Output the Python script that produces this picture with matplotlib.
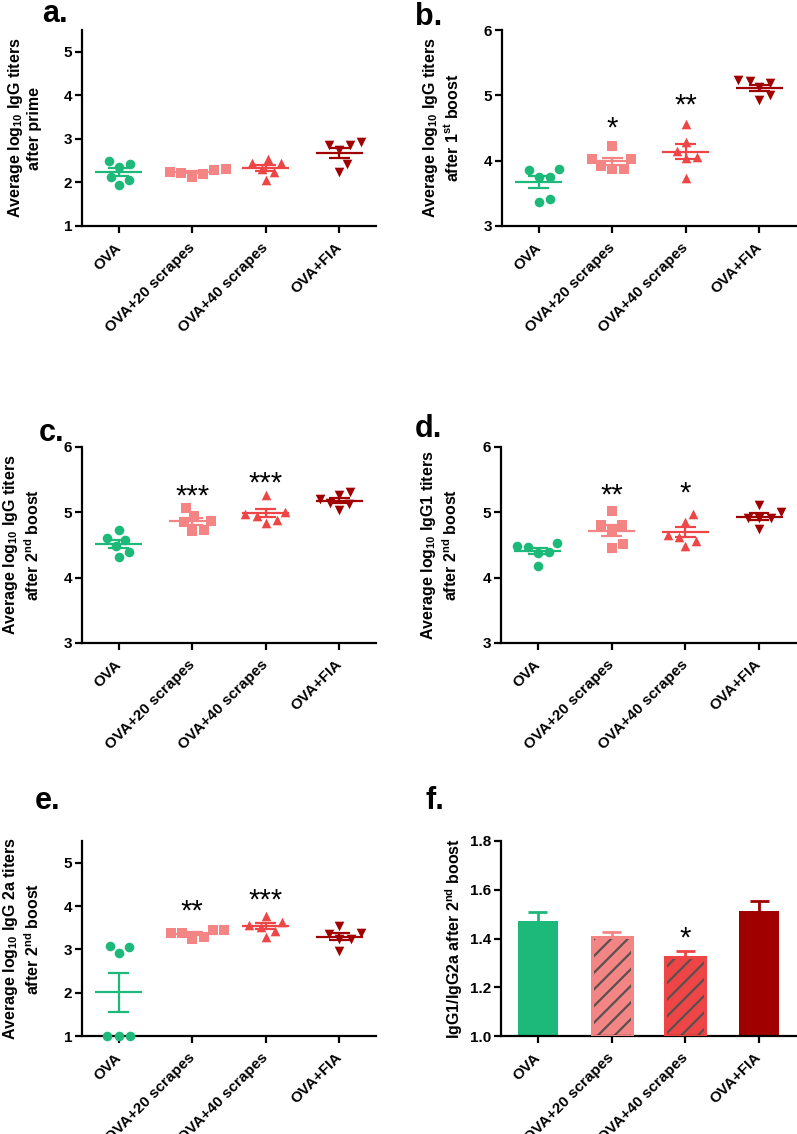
import numpy as np
import matplotlib
matplotlib.use("Agg")
import matplotlib.pyplot as plt

plt.rcParams.update({
    "font.family": "Liberation Sans",
    "font.weight": "bold",
    "axes.labelweight": "bold",
    "mathtext.fontset": "custom",
    "mathtext.rm": "Liberation Sans:bold",
    "mathtext.it": "Liberation Sans:bold",
    "mathtext.bf": "Liberation Sans:bold",
    "mathtext.sf": "Liberation Sans:bold",
    "mathtext.default": "rm",
    "hatch.linewidth": 1.6,
})

groups = ["OVA", "OVA+20 scrapes", "OVA+40 scrapes", "OVA+FIA"]
colors = ["#1DB97A", "#F48585", "#EE4646", "#A00000"]
markers = ["o", "s", "^", "v"]

# log10 titers per mouse, one list per group
prime = [[2.42, 2.36, 2.49, 2.13, 2.06, 1.94],
         [2.29, 2.22, 2.13, 2.20, 2.25, 2.31],
         [2.44, 2.45, 2.53, 2.31, 2.06, 2.25],
         [2.92, 2.85, 2.85, 2.75, 2.43, 2.23]]
boost1 = [[3.87, 3.755, 3.755, 3.85, 3.37, 3.42],
          [4.23, 4.02, 3.92, 3.88, 3.88, 4.02],
          [4.56, 4.29, 4.05, 4.04, 4.15, 3.73],
          [5.23, 5.19, 5.22, 5.12, 5.00, 4.93]]
boost2 = [[4.73, 4.58, 4.60, 4.48, 4.39, 4.31],
          [5.06, 4.94, 4.85, 4.86, 4.72, 4.73],
          [5.26, 5.005, 4.98, 4.95, 4.89, 4.84],
          [5.31, 5.26, 5.14, 5.21, 5.12, 5.03]]
igg1 = [[4.48, 4.40, 4.38, 4.47, 4.53, 4.18],
        [5.02, 4.80, 4.80, 4.73, 4.51, 4.46],
        [4.98, 4.85, 4.63, 4.66, 4.56, 4.48],
        [5.11, 5.00, 4.92, 4.92, 4.92, 4.74]]
igg2a = [[3.06, 3.08, 2.92, 1.00, 1.00, 1.00],
         [3.45, 3.37, 3.25, 3.29, 3.38, 3.45],
         [3.77, 3.56, 3.64, 3.52, 3.43, 3.28],
         [3.54, 3.38, 3.35, 3.25, 3.25, 2.95]]

# IgG1/IgG2a ratio (mean, SEM)
ratio_mean = [1.472, 1.407, 1.325, 1.512]
ratio_sem = [0.037, 0.020, 0.023, 0.041]

stars_b = ["", "*", "**", ""]
stars_c = ["", "***", "***", ""]
stars_d = ["", "**", "*", ""]
stars_e = ["", "**", "***", ""]
stars_f = ["", "", "*", ""]
star_y_b = [0, 4.62, 4.97, 0]
star_y_c = [0, 5.37, 5.57, 0]
star_y_d = [0, 5.39, 5.42, 0]
star_y_e = [0, 4.08, 4.33, 0]
star_y_f = [0, 0, 1.435, 0]

W, H = 797, 1134
fig = plt.figure(figsize=(W / 100, H / 100), dpi=100)


def make_ax(left, top, right, bottom):
    return fig.add_axes([left / W, 1 - bottom / H, (right - left) / W, (bottom - top) / H])


def style(ax, ylim, yticks, ylabel, lab_x, fmt="%d"):
    ax.set_xlim(-0.5, 3.5)
    ax.set_ylim(*ylim)
    ax.set_yticks(yticks)
    ax.set_yticklabels([fmt % t for t in yticks])
    for s in ("top", "right"):
        ax.spines[s].set_visible(False)
    for s in ("left", "bottom"):
        ax.spines[s].set_linewidth(1.6)
    ax.tick_params(direction="out", length=5, width=1.6, labelsize=11, pad=2)
    ax.set_xticks(range(4))
    ax.set_xticklabels(groups, rotation=45, ha="right", va="center",
                       rotation_mode="anchor", fontsize=11)
    ax.tick_params(axis="x", pad=9)
    ax.set_ylabel(ylabel, fontsize=11.5, linespacing=1.2)
    ax.yaxis.set_label_coords(lab_x, 0.5)


def swarm(ax, vals, d=11.5):
    # beeswarm offsets in pixels, converted back to category units
    ypx = ax.transData.transform((0, 1))[1] - ax.transData.transform((0, 0))[1]
    xpx = ax.transData.transform((1, 0))[0] - ax.transData.transform((0, 0))[0]
    placed = []
    offs = np.zeros(len(vals))
    for i in np.argsort(vals, kind="stable"):
        y = vals[i] * ypx
        cands = [0.0]
        for px, py in placed:
            dy = abs(y - py)
            if dy < d:
                dx = np.sqrt(d * d - dy * dy)
                cands += [px + dx, px - dx]
        cands.sort(key=abs)
        for c in cands:
            if all((c - px) ** 2 + (y - py) ** 2 >= d * d - 1e-6 for px, py in placed):
                break
        placed.append((c, y))
        offs[i] = c / xpx
    return offs


def scatter_panel(ax, data):
    for i, vals in enumerate(data):
        vals = np.array(vals)
        offs = swarm(ax, vals)
        ax.scatter(i + offs, vals, marker=markers[i], s=48 if i != 1 else 42,
                   color=colors[i], linewidths=0, zorder=3, clip_on=False)
        m = vals.mean()
        sem = vals.std(ddof=1) / np.sqrt(len(vals))
        ax.hlines(m, i - 0.32, i + 0.32, color=colors[i], lw=1.6, zorder=4)
        ax.hlines([m - sem, m + sem], i - 0.14, i + 0.14, color=colors[i], lw=1.6, zorder=4)
        ax.vlines(i, m - sem, m + sem, color=colors[i], lw=1.6, zorder=4)


def add_stars(ax, labels, ys):
    for i, (lab, y) in enumerate(zip(labels, ys)):
        if lab:
            ax.annotate(lab, (i, y), xytext=(0, -12), textcoords="offset points",
                        ha="center", va="baseline", fontsize=21, fontweight="normal")


lab_title = "Average log$_{10}$ IgG titers\n"

ax_a = make_ax(82, 30, 376, 226)
style(ax_a, (1, 5.5), [1, 2, 3, 4, 5], lab_title + "after prime", -0.136)
scatter_panel(ax_a, prime)

ax_b = make_ax(502, 30, 796, 226)
style(ax_b, (3, 6), [3, 4, 5, 6], lab_title + "after 1$^{st}$ boost", -0.140)
scatter_panel(ax_b, boost1)
add_stars(ax_b, stars_b, star_y_b)

ax_c = make_ax(82, 447, 376, 643)
style(ax_c, (3, 6), [3, 4, 5, 6], lab_title + "after 2$^{nd}$ boost", -0.136)
scatter_panel(ax_c, boost2)
add_stars(ax_c, stars_c, star_y_c)

ax_d = make_ax(501, 447, 796, 643)
style(ax_d, (3, 6), [3, 4, 5, 6], "Average log$_{10}$ IgG1 titers\nafter 2$^{nd}$ boost", -0.140)
scatter_panel(ax_d, igg1)
add_stars(ax_d, stars_d, star_y_d)

ax_e = make_ax(82, 841, 376, 1036)
style(ax_e, (1, 5.5), [1, 2, 3, 4, 5], "Average log$_{10}$ IgG 2a titers\nafter 2$^{nd}$ boost", -0.136)
scatter_panel(ax_e, igg2a)
add_stars(ax_e, stars_e, star_y_e)

ax_f = make_ax(501, 841, 796, 1036)
style(ax_f, (1.0, 1.8), [1.0, 1.2, 1.4, 1.6, 1.8], "IgG1/IgG2a after 2$^{nd}$ boost", -0.122, fmt="%.1f")
x = np.arange(4)
hatches = ["", "//", "//", ""]
for i in range(4):
    hc = "#5a5050" if hatches[i] else colors[i]
    ax_f.bar(x[i], ratio_mean[i] - 1.0, bottom=1.0, width=0.54, color=colors[i],
             hatch=hatches[i], edgecolor=hc, linewidth=0, zorder=2)
    if hatches[i]:
        ax_f.bar(x[i], ratio_mean[i] - 1.0, bottom=1.0, width=0.54, fill=False,
                 edgecolor=colors[i], linewidth=2.2, zorder=3)
    top = ratio_mean[i] + ratio_sem[i]
    ax_f.vlines(x[i], ratio_mean[i], top, color=colors[i], lw=2, zorder=1)
    ax_f.hlines(top, x[i] - 0.13, x[i] + 0.13, color=colors[i], lw=2, zorder=1)
add_stars(ax_f, stars_f, star_y_f)

for lab, px, py in [("a.", 42, 22), ("b.", 415, 25), ("c.", 39, 441),
                    ("d.", 415, 437), ("e.", 35, 809), ("f.", 425, 809)]:
    fig.text(px / W, 1 - py / H, lab, fontsize=22, fontweight="bold", va="baseline")

fig.savefig("out.png", dpi=100)
